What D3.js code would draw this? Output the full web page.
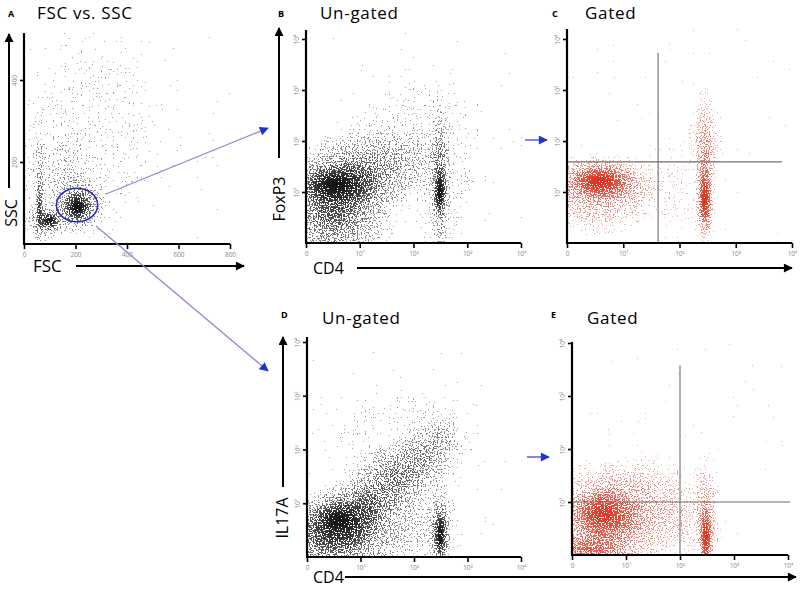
<!DOCTYPE html>
<html>
<head>
<meta charset="utf-8">
<script src="https://cdn.jsdelivr.net/npm/d3@7"></script>
<style>
  body { margin: 0; background: #fff; }
  svg { display: block; }
  text { font-family: "Open Sans", sans-serif; }
</style>
</head>
<body>
<div id="chart"></div>
<script>
const width = 800
const height = 589

// tick values and labels
const fscTicks = [0, 200, 400, 600, 800]
const sscTicks = [200, 400]
const decadeTicks = [0, 1, 2, 3, 4]
const decadeLabels = ["0", "10¹", "10²", "10³", "10⁴"]

// cell populations: [x, y, spreadX, spreadY, density]
// panel A in FSC / SSC channel units, the others in decades of the log axes
const cellsA = [
  [205, 90, 27, 18, 0.97],
  [215, 95, 45, 30, 0.55],
  [100, 57, 20, 11, 0.9],
  [85, 60, 40, 22, 0.45],
  [60, 90, 8, 45, 0.6],
  [62, 190, 12, 50, 0.18],
  [160, 160, 70, 60, 0.13],
  [260, 280, 160, 140, 0.035]
]
const cellsB = [
  [0.55, 1.15, 0.35, 0.2, 0.97],
  [0.5, 0.7, 0.5, 0.55, 0.62],
  [1.0, 1.3, 0.45, 0.4, 0.4],
  [1.6, 1.6, 0.45, 0.4, 0.22],
  [2.0, 2.2, 0.7, 0.6, 0.04],
  [2.49, 1.0, 0.06, 0.24, 0.97],
  [2.49, 1.2, 0.09, 0.7, 0.5],
  [2.5, 1.3, 0.3, 0.7, 0.08]
]
const cellsC = [
  [0.59, 1.22, 0.33, 0.19, 0.97],
  [0.5, 0.95, 0.45, 0.35, 0.38],
  [1.2, 1.1, 0.35, 0.3, 0.13],
  [1.9, 1.1, 0.4, 0.5, 0.04],
  [2.45, 0.85, 0.065, 0.32, 0.97],
  [2.45, 1.3, 0.09, 0.75, 0.45],
  [2.45, 2.0, 0.14, 0.35, 0.18]
]
const cellsD = [
  [0.6, 0.68, 0.38, 0.25, 0.97],
  [0.5, 0.3, 0.55, 0.3, 0.62],
  [1.15, 1.0, 0.35, 0.3, 0.52],
  [1.7, 1.5, 0.35, 0.3, 0.45],
  [2.2, 1.9, 0.3, 0.28, 0.3],
  [2.55, 2.25, 0.2, 0.2, 0.16],
  [1.8, 0.5, 0.5, 0.4, 0.16],
  [2.49, 0.4, 0.07, 0.27, 0.97],
  [2.49, 0.6, 0.12, 0.4, 0.3],
  [1.8, 2.2, 0.9, 0.6, 0.03]
]
const cellsE = [
  [0.58, 0.8, 0.3, 0.24, 0.82],
  [0.6, 0.6, 0.55, 0.45, 0.52],
  [0.3, 0.1, 0.4, 0.15, 0.55],
  [1.4, 0.8, 0.45, 0.45, 0.22],
  [1.0, 1.35, 0.6, 0.25, 0.1],
  [2.48, 0.35, 0.07, 0.33, 0.97],
  [2.48, 0.8, 0.12, 0.5, 0.3],
  [2.1, 0.6, 0.25, 0.4, 0.1]
]

// gates
const gateA = [206, 95, 80, 41]          // lymphocyte ellipse: FSC, SSC, radius FSC, radius SSC
const gateC = [1.62, 1.59, 3.73, 3.82]   // CD4 cut, FoxP3 cut, end of vertical, end of horizontal
const gateE = [2.0, 1.0, 3.58, 4.04]     // CD4 cut, IL17A cut, end of vertical, end of horizontal

const svg = d3.select("#chart")
  .append("svg")
  .attr("width", width)
  .attr("height", height)

const defs = svg.append("defs")

// soft density blob, gaussian-like falloff
const grad = defs.append("radialGradient").attr("id", "gauss")
const stops = [[0, 1], [0.2, 0.88], [0.4, 0.6], [0.6, 0.32], [0.8, 0.13], [1, 0]]
stops.forEach(s => grad.append("stop").attr("offset", s[0]).attr("stop-color", "#000").attr("stop-opacity", s[1]))

// turns density into a speckle of dots, paler where the cloud is thin
function stippleFilter(id, color, seed) {
  const f = defs.append("filter").attr("id", id)
    .attr("filterUnits", "userSpaceOnUse")
    .attr("x", 0).attr("y", 0).attr("width", width).attr("height", height)
    .attr("color-interpolation-filters", "sRGB")
  f.append("feTurbulence").attr("type", "fractalNoise").attr("baseFrequency", 0.75)
    .attr("numOctaves", 1).attr("seed", seed).attr("result", "noise")
  f.append("feComponentTransfer").attr("in", "noise").attr("result", "flat")
    .append("feFuncR").attr("type", "table")
    .attr("tableValues", "0 0 0 0.02 0.16 0.5 0.84 0.98 1 1 1")
  f.append("feColorMatrix").attr("in", "flat").attr("type", "matrix")
    .attr("values", "0 0 0 0 0  0 0 0 0 0  0 0 0 0 0  1 0 0 0 0").attr("result", "na")
  f.append("feComposite").attr("in", "SourceAlpha").attr("in2", "na")
    .attr("operator", "arithmetic").attr("k1", 0).attr("k2", 1).attr("k3", -1).attr("k4", 0.5)
    .attr("result", "diff")
  f.append("feComponentTransfer").attr("in", "diff").attr("result", "thr")
    .append("feFuncA").attr("type", "discrete").attr("tableValues", "0 1")
  f.append("feComposite").attr("in", "thr").attr("in2", "SourceAlpha")
    .attr("operator", "arithmetic").attr("k1", 0.62).attr("k2", 0.38).attr("result", "shade")
  f.append("feFlood").attr("flood-color", color).attr("result", "ink")
  f.append("feComposite").attr("in", "ink").attr("in2", "shade").attr("operator", "in")
}
stippleFilter("dotsBlack", "#111", 3)
stippleFilter("dotsRed", "#dc2e18", 11)

function marker(id, color, w, h) {
  defs.append("marker").attr("id", id)
    .attr("markerUnits", "userSpaceOnUse")
    .attr("viewBox", "0 0 10 10")
    .attr("markerWidth", w).attr("markerHeight", h)
    .attr("refX", 9).attr("refY", 5)
    .attr("orient", "auto")
    .append("path").attr("d", "M0,0L10,5L0,10z").attr("fill", color)
}
marker("arrowBlack", "#000", 11, 9)
marker("arrowBlue", "#2233cc", 10, 9)

function arrow(x1, y1, x2, y2, color, w, m) {
  svg.append("line")
    .attr("x1", x1).attr("y1", y1).attr("x2", x2).attr("y2", y2)
    .attr("stroke", color).attr("stroke-width", w)
    .attr("marker-end", `url(#${m})`)
}

function label(x, y, txt, size, opts = {}) {
  const t = svg.append("text")
    .attr("font-size", size)
    .attr("font-weight", opts.bold ? 700 : 400)
    .attr("letter-spacing", opts.spacing || 0)
    .attr("text-anchor", opts.anchor || "start")
    .text(txt)
  if (opts.rotate) t.attr("transform", `translate(${x},${y}) rotate(-90)`)
  else t.attr("x", x).attr("y", y)
  return t
}

function drawPanel(p) {
  const x = d3.scaleLinear().domain(p.xDomain).range(p.xRange)
  const y = d3.scaleLinear().domain(p.yDomain).range(p.yRange)
  const x0 = p.xRange[0], y0 = p.yRange[0]

  defs.append("clipPath").attr("id", "clip" + p.id)
    .append("rect")
    .attr("x", x0 + 1).attr("y", p.top)
    .attr("width", p.xRange[1] - x0).attr("height", y0 - p.top - 1)

  svg.append("g")
    .attr("clip-path", `url(#clip${p.id})`)
    .attr("filter", `url(#${p.filter})`)
    .selectAll("ellipse")
    .data(p.cells)
    .join("ellipse")
    .attr("cx", d => x(d[0]))
    .attr("cy", d => y(d[1]))
    .attr("rx", d => Math.abs(x(d[0] + 2.5 * d[2]) - x(d[0])))
    .attr("ry", d => Math.abs(y(d[1] + 2.5 * d[3]) - y(d[1])))
    .attr("fill", "url(#gauss)")
    .attr("fill-opacity", d => d[4])

  if (p.gate) p.gate(x, y)

  const xAxis = svg.append("g")
    .attr("transform", `translate(0,${y0})`)
    .call(d3.axisBottom(x).tickValues(p.xTicks).tickFormat((d, i) => p.xLabels[i])
      .tickSize(5).tickSizeOuter(0).tickPadding(3))
  const yAxis = svg.append("g")
    .attr("transform", `translate(${x0},0)`)
    .call(d3.axisLeft(y).tickValues(p.yTicks).tickFormat((d, i) => p.yLabels[i])
      .tickSize(4).tickSizeOuter(0))
  ;[xAxis, yAxis].forEach(a => {
    a.select(".domain").remove()
    a.selectAll(".tick line").attr("stroke", "#000").attr("stroke-width", 1.6)
    a.selectAll(".tick text").attr("fill", "#8a8a8a").attr("font-size", 6.5)
  })
  yAxis.selectAll(".tick text")
    .attr("x", 0).attr("dy", 0)
    .attr("text-anchor", "middle")
    .attr("transform", "translate(-7,0) rotate(-90)")

  svg.append("path")
    .attr("d", `M${x0},${p.top}V${y0}H${p.xRange[1]}`)
    .attr("fill", "none").attr("stroke", "#000").attr("stroke-width", 2.2)
}

function gateLines(g) {
  return (x, y) => {
    const grp = svg.append("g").attr("stroke", "#6f6f6f").attr("stroke-width", 1.1)
    grp.append("line").attr("x1", x(g[0])).attr("x2", x(g[0])).attr("y1", y(0)).attr("y2", y(g[2]))
    grp.append("line").attr("x1", x(0)).attr("x2", x(g[3])).attr("y1", y(g[1])).attr("y2", y(g[1]))
  }
}

const panels = [
  {
    id: "A", cells: cellsA, filter: "dotsBlack",
    xDomain: [0, 800], xRange: [24, 230], yDomain: [0, 400], yRange: [244, 80], top: 33,
    xTicks: fscTicks, xLabels: fscTicks.map(String),
    yTicks: sscTicks, yLabels: sscTicks.map(String),
    gate: (x, y) => {
      svg.append("ellipse")
        .attr("cx", x(gateA[0])).attr("cy", y(gateA[1]))
        .attr("rx", x(gateA[0] + gateA[2]) - x(gateA[0]))
        .attr("ry", y(gateA[1]) - y(gateA[1] + gateA[3]))
        .attr("fill", "none").attr("stroke", "#2a2ac0").attr("stroke-width", 1.6)
    }
  },
  {
    id: "B", cells: cellsB, filter: "dotsBlack",
    xDomain: [0, 4], xRange: [306, 521], yDomain: [0, 4], yRange: [243, 39], top: 30,
    xTicks: decadeTicks, xLabels: decadeLabels,
    yTicks: decadeTicks.slice(1), yLabels: decadeLabels.slice(1)
  },
  {
    id: "C", cells: cellsC, filter: "dotsRed",
    xDomain: [0, 4], xRange: [567, 792], yDomain: [0, 4], yRange: [243, 39], top: 29,
    xTicks: decadeTicks, xLabels: decadeLabels,
    yTicks: decadeTicks.slice(1), yLabels: decadeLabels.slice(1),
    gate: gateLines(gateC)
  },
  {
    id: "D", cells: cellsD, filter: "dotsBlack",
    xDomain: [0, 4], xRange: [307, 521], yDomain: [0, 4], yRange: [557, 342], top: 337,
    xTicks: decadeTicks, xLabels: decadeLabels,
    yTicks: decadeTicks.slice(1), yLabels: decadeLabels.slice(1)
  },
  {
    id: "E", cells: cellsE, filter: "dotsRed",
    xDomain: [0, 4], xRange: [572, 788], yDomain: [0, 4], yRange: [555, 343], top: 342,
    xTicks: decadeTicks, xLabels: decadeLabels,
    yTicks: decadeTicks.slice(1), yLabels: decadeLabels.slice(1),
    gate: gateLines(gateE)
  }
]

panels.forEach(drawPanel)

// panel letters and titles
const titleOpts = { spacing: 0.7 }
label(8, 17, "A", 9, { bold: true })
label(37, 19, "FSC vs. SSC", 17, titleOpts)
label(278, 17, "B", 9, { bold: true })
label(320, 19, "Un-gated", 17, titleOpts)
label(552, 17, "C", 9, { bold: true })
label(585, 19, "Gated", 17, titleOpts)
label(281, 318, "D", 9, { bold: true })
label(322, 324, "Un-gated", 17, titleOpts)
label(551, 318, "E", 9, { bold: true })
label(587, 324, "Gated", 17, titleOpts)

// axis titles
label(17, 213, "SSC", 16, { rotate: true, anchor: "middle" })
label(33, 272, "FSC", 17)
label(285, 199, "FoxP3", 16, { rotate: true, anchor: "middle" })
label(313, 274, "CD4", 16)
label(288, 518, "IL17A", 16, { rotate: true, anchor: "middle" })
label(313, 583, "CD4", 16)

// axis arrows
arrow(9, 188, 9, 34, "#000", 2, "arrowBlack")
arrow(76, 266, 244, 266, "#000", 2, "arrowBlack")
arrow(279, 158, 279, 28, "#000", 2, "arrowBlack")
arrow(357, 268, 792, 268, "#000", 2, "arrowBlack")
arrow(283, 487, 283, 337, "#000", 2, "arrowBlack")
arrow(345, 577, 796, 577, "#000", 2, "arrowBlack")

// blue links from the gate to the downstream plots
arrow(106, 194, 268, 128, "#8a8ad8", 1.3, "arrowBlue")
arrow(96, 226, 268, 371, "#8a8ad8", 1.3, "arrowBlue")
arrow(525, 140, 547, 140, "#3b45d6", 1.3, "arrowBlue")
arrow(527, 457, 549, 457, "#3b45d6", 1.3, "arrowBlue")
</script>
</body>
</html>
